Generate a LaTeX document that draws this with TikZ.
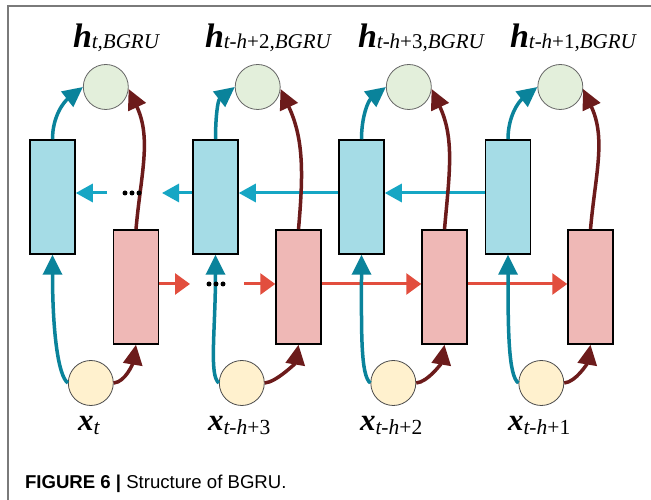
\documentclass[tikz,border=0pt]{standalone}
\usepackage{fontspec}
\setmainfont{Liberation Serif}
\newfontfamily\capfont{Liberation Sans}
\usetikzlibrary{arrows.meta,calc}
\definecolor{bfill}{HTML}{A5DCE6}
\definecolor{pfill}{HTML}{EFB8B6}
\definecolor{gfill}{HTML}{E3EFDB}
\definecolor{yfill}{HTML}{FFF1CE}
\definecolor{tealc}{HTML}{0A839B}
\definecolor{hblue}{HTML}{16A6C4}
\definecolor{hred}{HTML}{E24E3E}
\definecolor{dred}{HTML}{6C1B1B}
\definecolor{framec}{HTML}{7A7A7A}
\newcommand{\hlab}[1]{{\fontsize{34}{34}\selectfont\bfseries\itshape h}\raisebox{-1pt}{\fontsize{21}{21}\selectfont #1}}
\newcommand{\xlab}[1]{{\fontsize{31}{31}\selectfont\bfseries\itshape x}\raisebox{-4pt}{\fontsize{21.5}{21.5}\selectfont #1}}
\begin{document}
\begin{tikzpicture}[x=1pt,y=1pt,
  bbox/.style={draw=black,line width=1.5pt,fill=bfill,minimum width=45pt,minimum height=114pt,inner sep=0},
  pbox/.style={draw=black,line width=1.5pt,fill=pfill,minimum width=45pt,minimum height=114pt,inner sep=0},
  gcirc/.style={circle,draw=black!60,line width=0.8pt,fill=gfill,minimum size=45pt,inner sep=0},
  ycirc/.style={circle,draw=black!70,line width=0.8pt,fill=yfill,minimum size=45pt,inner sep=0},
  lab/.style={anchor=base west,inner sep=0,outer sep=0},
  tarr/.style={draw=tealc,line width=3.5pt,-{Triangle[length=20pt,width=19pt]}},
  rarr/.style={draw=dred,line width=3.5pt,-{Triangle[length=20pt,width=19pt]}},
  harrB/.style={draw=hblue,line width=3pt,-{Triangle[length=17pt,width=18pt]}},
  harrR/.style={draw=hred,line width=3pt,-{Triangle[length=15pt,width=21pt]}},
  dotc/.style={circle,fill=black,inner sep=0,minimum size=5pt}
]
\useasboundingbox (0,0) rectangle (651,500);
\fill[white] (0,0) rectangle (651,500);
\draw[framec,line width=1.2pt] (8,0) -- (8,494) -- (651,494);

% boxes
\node[bbox] (b1) at (52.5,303) {};
\node[bbox] (b2) at (215.5,303) {};
\node[bbox] (b3) at (361.5,303) {};
\node[bbox] (b4) at (508,303) {};
\node[pbox] (p1) at (136,213) {};
\node[pbox] (p2) at (298.5,213) {};
\node[pbox] (p3) at (444.5,213) {};
\node[pbox] (p4) at (590.5,213) {};
% circles
\node[gcirc] (g1) at (105.8,413) {};
\node[gcirc] (g2) at (257.7,413) {};
\node[gcirc] (g3) at (408.8,413) {};
\node[gcirc] (g4) at (560.3,413) {};
\node[ycirc] (y1) at (90.8,117) {};
\node[ycirc] (y2) at (241.8,117) {};
\node[ycirc] (y3) at (393.3,117) {};
\node[ycirc] (y4) at (541.3,117) {};

% labels
\node[lab] (l1) at (73,452) {\hlab{\textit{t,BGRU}}};
\node[lab] (l2) at (205,452) {\hlab{\textit{t-h}+2\textit{,BGRU}}};
\node[lab] (l3) at (358,452) {\hlab{\textit{t-h}+3\textit{,BGRU}}};
\node[lab] (l4) at (510,452) {\hlab{\textit{t-h}+1\textit{,BGRU}}};
\node[lab] (x1) at (78,69) {\xlab{\textit{t}}};
\node[lab] (x2) at (208,69) {\xlab{\textit{t-h}+3}};
\node[lab] (x3) at (360,69) {\xlab{\textit{t-h}+2}};
\node[lab] (x4) at (508,69) {\xlab{\textit{t-h}+1}};
\node[lab] (cap) at (25,11) {\capfont\fontsize{18.6}{18.6}\selectfont\textbf{FIGURE 6 |} Structure of BGRU.};

% horizontal arrows
\coordinate (by) at (0,307);
\coordinate (ry) at (0,216);
\coordinate (bl) at (107,307);
\coordinate (br) at (162,307);
\coordinate (rl) at (190,216);
\coordinate (rr) at (244,216);
\draw[harrB] (bl) -- (b1.east |- by);
\draw[harrB] (b2.west |- by) -- (br);
\draw[harrB] (b3.west |- by) -- (b2.east |- by);
\draw[harrB] (b4.west |- by) -- (b3.east |- by);
\draw[harrR] (p1.east |- ry) -- (rl);
\draw[harrR] (rr) -- (p2.west |- ry);
\draw[harrR] (p2.east |- ry) -- (p3.west |- ry);
\draw[harrR] (p3.east |- ry) -- (p4.west |- ry);

% curved arrows
\foreach \i in {1,...,4}{
  \draw[tarr] (b\i.north) to[out=90,in=218] (g\i.west);
  \draw[rarr] (p\i.north) to[out=85,in=-65] (g\i.-5);
  \draw[tarr] (y\i.west) .. controls ($(y\i.west)+(-10,7)$) and ($(b\i.south)+(0,-75)$) .. (b\i.south);
  \draw[rarr] (y\i.east) .. controls ($(y\i.east)+(12,1)$) and ($(p\i.south)+(-3,-18)$) .. (p\i.south);
}

% dots
\node[dotc] (d1) at (125,307) {};
\node[dotc] (d2) at (132,307) {};
\node[dotc] (d3) at (139,307) {};
\node[dotc] (d4) at (209,216) {};
\node[dotc] (d5) at (216,216) {};
\node[dotc] (d6) at (223,216) {};
\end{tikzpicture}
\end{document}
